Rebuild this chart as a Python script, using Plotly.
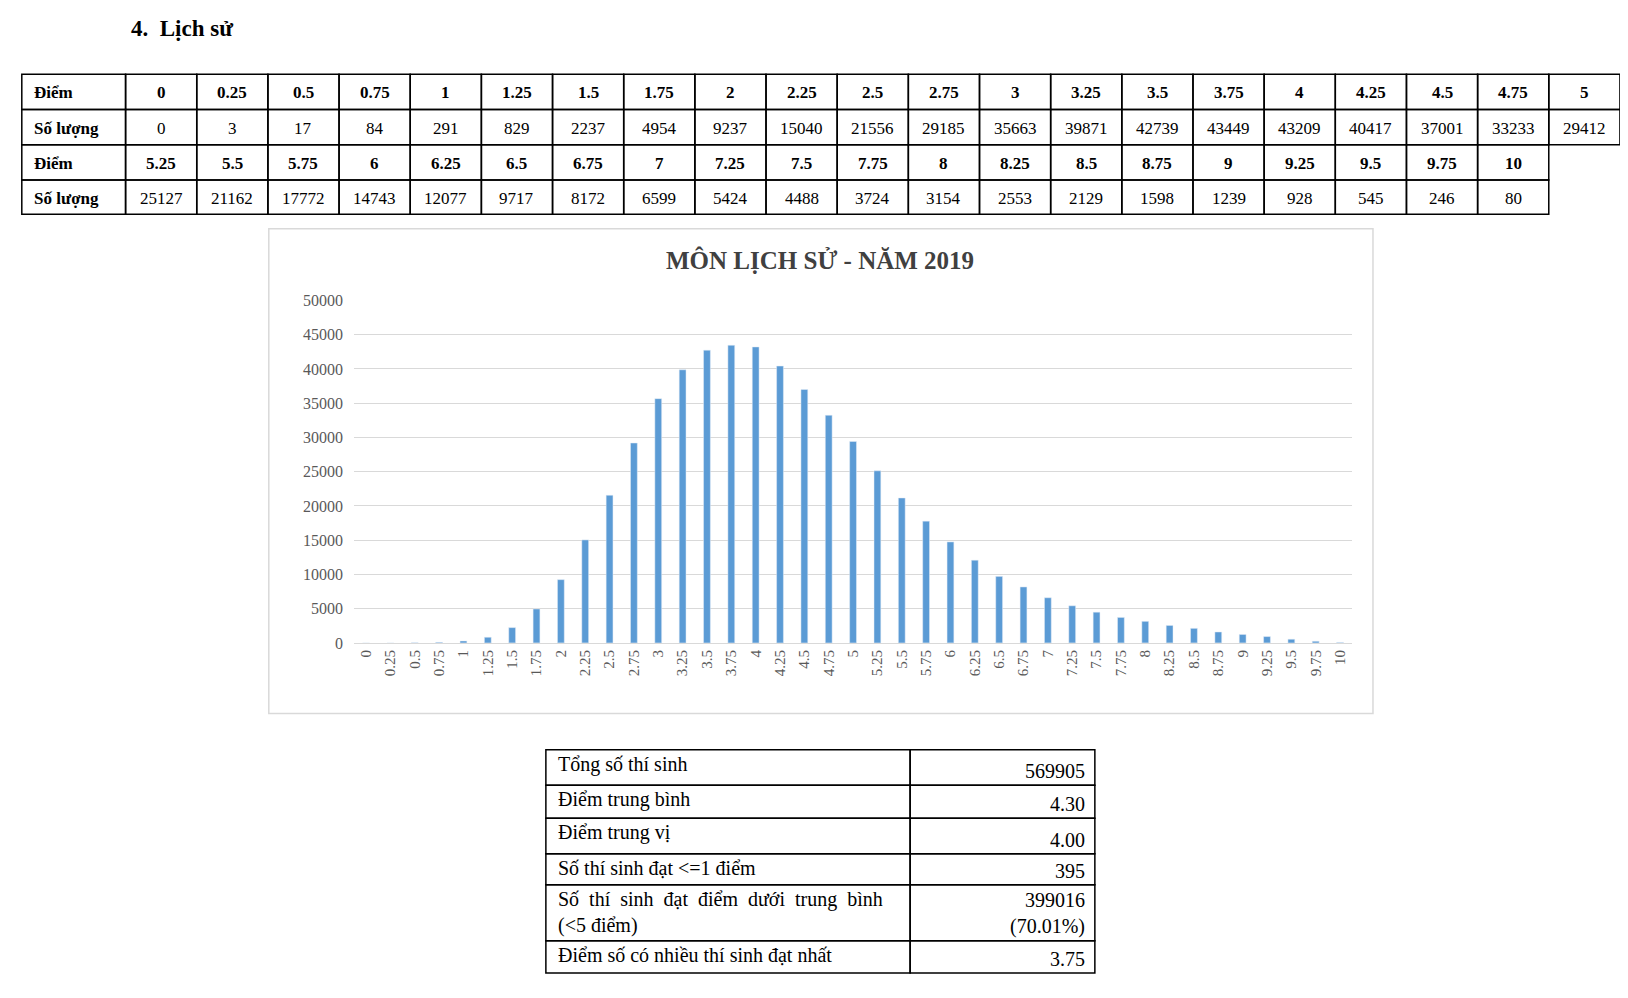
import plotly.graph_objects as go

# Dữ liệu
diem = ["0", "0.25", "0.5", "0.75", "1", "1.25", "1.5", "1.75", "2", "2.25", "2.5", "2.75",
        "3", "3.25", "3.5", "3.75", "4", "4.25", "4.5", "4.75", "5", "5.25", "5.5", "5.75",
        "6", "6.25", "6.5", "6.75", "7", "7.25", "7.5", "7.75", "8", "8.25", "8.5", "8.75",
        "9", "9.25", "9.5", "9.75", "10"]
so_luong = [0, 3, 17, 84, 291, 829, 2237, 4954, 9237, 15040, 21556, 29185, 35663, 39871,
            42739, 43449, 43209, 40417, 37001, 33233, 29412, 25127, 21162, 17772, 14743,
            12077, 9717, 8172, 6599, 5424, 4488, 3724, 3154, 2553, 2129, 1598, 1239, 928,
            545, 246, 80]
y_ticks = [0, 5000, 10000, 15000, 20000, 25000, 30000, 35000, 40000, 45000, 50000]
tong_ket_nhan = ["Tổng số thí sinh", "Điểm trung bình", "Điểm trung vị",
                 "Số thí sinh đạt <=1 điểm",
                 "Số  thí  sinh  đạt  điểm  dưới  trung  bình<br>(<5 điểm)",
                 "Điểm số có nhiều thí sinh đạt nhất"]
tong_ket_gia_tri = ["569905", "4.30", "4.00", "395", "399016<br>(70.01%)", "3.75"]

W, H = 1628, 998
SERIF = "Liberation Serif"


# toạ độ đo trên ảnh mẫu -> toạ độ paper
def px(x):
    return ((x - 6.7) / 0.9636) / W


def py(y):
    return 1 - ((y - 16) / 0.947) / H


shapes = []
annotations = []


def rect(x0, y0, x1, y1, color="black", width=1.5):
    shapes.append(dict(type="rect", xref="paper", yref="paper",
                       x0=px(x0), x1=px(x1), y0=py(y1), y1=py(y0),
                       line=dict(color=color, width=width)))


def text(x, y, t, size=17, bold=False, xanchor="center", yanchor="middle",
         color="black", align="center"):
    if bold:
        t = f"<b>{t}</b>"
    annotations.append(dict(xref="paper", yref="paper", x=px(x), y=py(y), text=t,
                            showarrow=False, xanchor=xanchor, yanchor=yanchor, align=align,
                            font=dict(family=SERIF, size=size, color=color)))


# Tiêu đề
text(123, 28, "4.  Lịch sử", size=23, bold=True, xanchor="left")

# Bảng điểm
col0, x_start, cw = 20, 120, 68.57
rows = [72, 106, 140, 174, 207]
for r in range(4):
    half = r // 2
    labels = diem[:21] if half == 0 else diem[21:]
    counts = so_luong[:21] if half == 0 else so_luong[21:]
    y0, y1 = rows[r], rows[r + 1]
    ym = (y0 + y1) / 2 + 1
    rect(col0, y0, x_start, y1)
    text(col0 + 10, ym, "Điểm" if r % 2 == 0 else "Số lượng", bold=True, xanchor="left")
    for i in range(len(labels)):
        xa = x_start + i * cw
        rect(xa, y0, xa + cw, y1)
        if r % 2 == 0:
            text(xa + cw / 2, ym, labels[i], bold=True)
        else:
            text(xa + cw / 2, ym, str(counts[i]))

# Khung biểu đồ
rect(258, 221, 1322, 688, color="#d9d9d9", width=1.5)
text(789, 251, "MÔN LỊCH SỬ - NĂM 2019", size=25, bold=True, color="#404040")

# Bảng tổng kết
srows = [723, 757, 789, 823, 853, 907, 938]
for i in range(6):
    y0, y1 = srows[i], srows[i + 1]
    rect(525, y0, 876, y1)
    rect(876, y0, 1054, y1)
    text(535, y0 + 1, tong_ket_nhan[i], size=20, xanchor="left", yanchor="top", align="left")
    text(1046, y1 - 1, tong_ket_gia_tri[i], size=20, xanchor="right", yanchor="bottom",
         align="right")

fig = go.Figure(go.Bar(x=diem, y=so_luong, marker_color="#5B9BD5",
                       hovertemplate="Điểm %{x}: %{y}<extra></extra>"))

fig.update_layout(
    width=W, height=H,
    margin=dict(l=0, r=0, t=0, b=0),
    paper_bgcolor="white", plot_bgcolor="white",
    bargap=0.72, showlegend=False,
    shapes=shapes, annotations=annotations,
    xaxis=dict(domain=[px(340), px(1302)], type="category", tickangle=-90,
               tickfont=dict(family=SERIF, size=15, color="#595959"),
               showline=True, linecolor="#d9d9d9", ticks=""),
    yaxis=dict(domain=[py(620), py(290)], range=[0, 50000], tickvals=y_ticks,
               tickformat="d",
               tickfont=dict(family=SERIF, size=16, color="#595959"),
               gridcolor="#d9d9d9", zeroline=False, ticklabelstandoff=10),
)

fig.write_html("out.html")
